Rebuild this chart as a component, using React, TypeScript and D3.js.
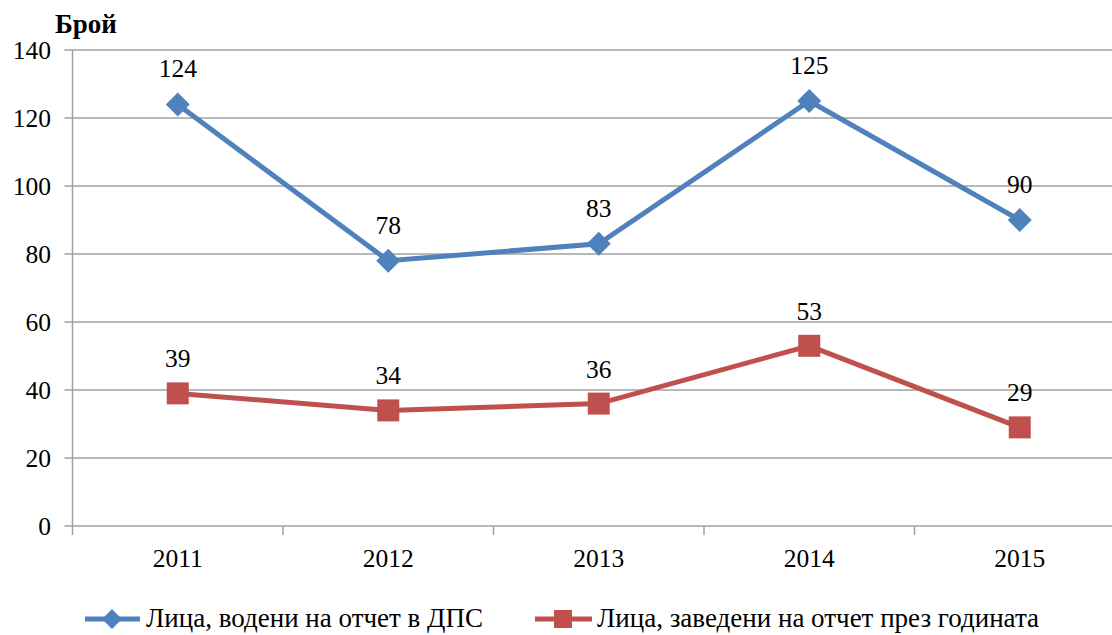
import * as d3 from "d3"

const years = ["2011", "2012", "2013", "2014", "2015"]
const kept = [124, 78, 83, 125, 90]
const added = [39, 34, 36, 53, 29]
const yTicks = [0, 20, 40, 60, 80, 100, 120, 140]
const seriesNames = ["Лица, водени на отчет в ДПС", "Лица, заведени на отчет през годината"]

const W = 1112
const H = 635
const left = 72.5
const bandW = 210.5
const blue = "#4F81BD"
const red = "#C0504D"
const txt = { fontFamily: "Liberation Serif", fontSize: 25.5, fill: "#000" }
const legY = 619

export default function App() {
  // x band runs past the right edge like in the original crop
  const x = d3.scaleBand().domain(years).range([left, left + bandW * years.length])
  const y = d3.scaleLinear().domain([0, 140]).range([526, 50])
  const cx = (d: string) => (x(d) as number) + x.bandwidth() / 2

  const line = d3.line<number>()
    .x((_, i) => cx(years[i]))
    .y(d => y(d))

  return (
    <svg width={W} height={H} style={{ position: "absolute", left: 0, top: 0, background: "#fff" }}>
      {/* grid */}
      {yTicks.map(t => (
        <g key={t}>
          <line x1={left - 8} x2={W} y1={y(t)} y2={y(t)} stroke="#A0A0A0" strokeWidth={1.5} />
          <text x={51} y={y(t)} dy="0.35em" textAnchor="end" style={txt}>{t}</text>
        </g>
      ))}
      <line x1={left} x2={left} y1={y(140)} y2={y(0)} stroke="#A0A0A0" strokeWidth={1.5} />
      {years.map((yr, i) => (
        <g key={yr}>
          <line x1={left + bandW * i} x2={left + bandW * i} y1={y(0)} y2={y(0) + 9} stroke="#A0A0A0" strokeWidth={1.5} />
          <text x={cx(yr)} y={567} textAnchor="middle" style={txt}>{yr}</text>
        </g>
      ))}
      <text x={55} y={33} style={{ ...txt, fontSize: 27, fontWeight: "bold" }}>Брой</text>

      {/* series */}
      <path d={line(kept) || ""} fill="none" stroke={blue} strokeWidth={5} />
      <path d={line(added) || ""} fill="none" stroke={red} strokeWidth={5} />
      {kept.map((v, i) => (
        <g key={"k" + i}>
          <rect x={-8.5} y={-8.5} width={17} height={17} fill={blue} transform={`translate(${cx(years[i])},${y(v)}) rotate(45)`} />
          <text x={cx(years[i])} y={y(v) - 27} textAnchor="middle" style={txt}>{v}</text>
        </g>
      ))}
      {added.map((v, i) => (
        <g key={"a" + i}>
          <rect x={cx(years[i]) - 11} y={y(v) - 11} width={22} height={22} fill={red} />
          <text x={cx(years[i])} y={y(v) - 26} textAnchor="middle" style={txt}>{v}</text>
        </g>
      ))}

      {/* legend */}
      <g>
        <line x1={85} x2={140} y1={legY} y2={legY} stroke={blue} strokeWidth={5} />
        <rect x={-7} y={-7} width={14} height={14} fill={blue} transform={`translate(112,${legY}) rotate(45)`} />
        <text x={146} y={legY + 8} style={{ ...txt, fontSize: 27 }}>{seriesNames[0]}</text>
        <line x1={535} x2={592} y1={legY} y2={legY} stroke={red} strokeWidth={5} />
        <rect x={554} y={legY - 9} width={18} height={18} fill={red} />
        <text x={597} y={legY + 8} style={{ ...txt, fontSize: 27 }}>{seriesNames[1]}</text>
      </g>
    </svg>
  )
}
